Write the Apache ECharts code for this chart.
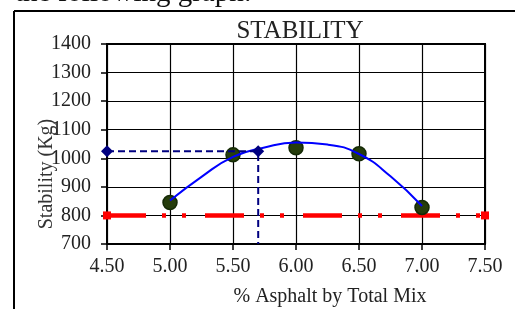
<!DOCTYPE html>
<html><head><meta charset="utf-8">
<script src="https://cdn.jsdelivr.net/npm/echarts@6/dist/echarts.min.js"></script>
<style>html,body{margin:0;padding:0;background:#fff}#c{width:515px;height:309px}</style>
</head><body><div id="c"></div>
<script>
// Measured data points (% asphalt vs stability)
const asphaltContent = [5.0, 5.5, 6.0, 6.5, 7.0];
const stabilityValues = [845, 1012, 1037, 1016, 828];
// Trend curve
const trendX = [5.0, 5.25, 5.5, 5.75, 6.0, 6.25, 6.5, 6.75, 7.0];
const trendY = [852, 935, 1005, 1038, 1055, 1048, 1015, 937, 833];
// Specification limit line
const specX = [4.5, 7.5];
const specY = [800, 800];
// Optimum guide line
const optimumX = [4.5, 5.7, 5.7];
const optimumY = [1025, 1025, 700];
const optimumMarker = [true, true, false];
// Axis ticks
const xTickLabels = ['4.50', '5.00', '5.50', '6.00', '6.50', '7.00', '7.50'];
const yTickLabels = ['700', '800', '900', '1000', '1100', '1200', '1300', '1400'];

const serif = "'Liberation Serif','Times New Roman',serif";
const chart = echarts.init(document.getElementById('c'), null, {renderer: 'canvas'});
const xMin = parseFloat(xTickLabels[0]), xMax = parseFloat(xTickLabels[xTickLabels.length - 1]);
const yMin = parseFloat(yTickLabels[0]), yMax = parseFloat(yTickLabels[yTickLabels.length - 1]);

chart.setOption({
  animation: false,
  backgroundColor: '#fff',
  grid: {left: 107, top: 44, right: 30, bottom: 65, show: true, borderColor: '#000', borderWidth: 2, backgroundColor: 'transparent'},
  xAxis: {
    type: 'value', min: xMin, max: xMax, interval: 0.5,
    axisLine: {show: true, onZero: false, lineStyle: {color: '#000', width: 2}},
    axisTick: {show: true, length: 6, lineStyle: {color: '#000', width: 1.5}},
    splitLine: {show: true, lineStyle: {color: '#000', width: 1.2}},
    axisLabel: {margin: 13, fontFamily: serif, fontSize: 20, color: '#222',
      formatter: v => xTickLabels[Math.round((v - xMin) / 0.5)]}
  },
  yAxis: {
    type: 'value', min: yMin, max: yMax, interval: 100,
    axisLine: {show: true, onZero: false, lineStyle: {color: '#000', width: 2}},
    axisTick: {show: true, length: 6, lineStyle: {color: '#000', width: 1.5}},
    splitLine: {show: true, lineStyle: {color: '#000', width: 1.2}},
    axisLabel: {margin: 16, fontFamily: serif, fontSize: 20, color: '#222',
      formatter: v => yTickLabels[Math.round((v - yMin) / 100)]}
  },
  graphic: [
    {type: 'text', x: 15, y: 8, style: {text: 'the following graph:', font: "29px 'Liberation Serif','Times New Roman',serif", fill: '#111', textAlign: 'left', textVerticalAlign: 'bottom'}},
    {type: 'line', shape: {x1: 14, y1: 11, x2: 515, y2: 11}, style: {stroke: '#000', lineWidth: 2}},
    {type: 'line', shape: {x1: 14, y1: 11, x2: 14, y2: 309}, style: {stroke: '#000', lineWidth: 2}},
    {type: 'text', x: 300, y: 31, style: {text: 'STABILITY', font: "25px 'Liberation Serif','Times New Roman',serif", fill: '#222', textAlign: 'center', textVerticalAlign: 'middle'}},
    {type: 'text', x: 330, y: 297, style: {text: '% Asphalt by Total Mix', font: "20px 'Liberation Serif','Times New Roman',serif", fill: '#222', textAlign: 'center', textVerticalAlign: 'middle'}},
    {type: 'text', x: 47, y: 174, rotation: Math.PI / 2, style: {text: 'Stability (Kg)', font: "20px 'Liberation Serif','Times New Roman',serif", fill: '#333', textAlign: 'center', textVerticalAlign: 'middle'}}
  ],
  series: [
    {
      type: 'line', z: 3,
      data: specX.map((x, i) => [x, specY[i]]),
      symbol: 'rect', symbolSize: 8, showSymbol: true,
      itemStyle: {color: '#ff0000'},
      lineStyle: {color: '#ff0000', width: 4.5, type: [39, 16, 4, 16, 4, 19]}
    },
    {
      type: 'scatter', z: 4,
      data: asphaltContent.map((x, i) => [x, stabilityValues[i]]),
      symbol: 'circle', symbolSize: 14,
      itemStyle: {color: '#263d0c', borderColor: '#152a06', borderWidth: 1.5, opacity: 1}
    },
    {
      type: 'line', z: 5, smooth: true,
      data: trendX.map((x, i) => [x, trendY[i]]),
      showSymbol: false, symbol: 'none',
      lineStyle: {color: '#0000ff', width: 2}
    },
    {
      type: 'line', z: 6,
      data: optimumX.map((x, i) => ({value: [x, optimumY[i]], symbol: optimumMarker[i] ? 'diamond' : 'none'})),
      symbolSize: 12, showSymbol: true,
      itemStyle: {color: '#000080'},
      lineStyle: {color: '#000080', width: 2, type: [7, 4]}
    }
  ]
});
</script>
</body></html>
